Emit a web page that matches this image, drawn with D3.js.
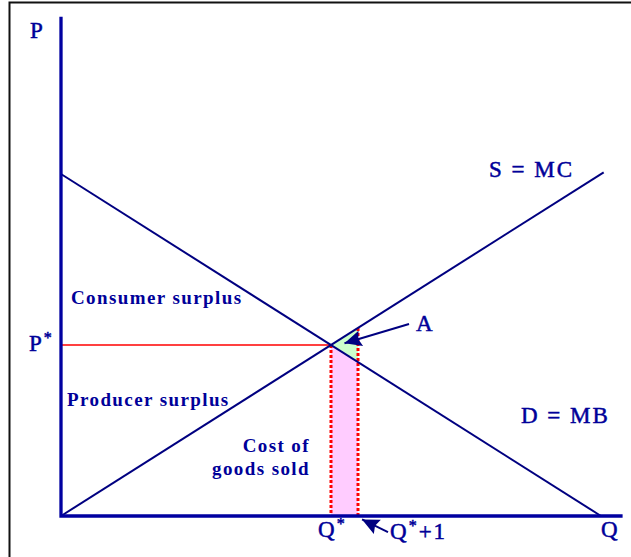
<!DOCTYPE html>
<html>
<head>
<meta charset="utf-8">
<script src="https://cdn.jsdelivr.net/npm/d3@7"></script>
<style>
  body { margin: 0; background: #fff; }
  svg { display: block; }
  text { font-family: "Liberation Serif", "Times New Roman", serif; fill: #000099; }
  .bold { font-weight: bold; font-size: 19px; letter-spacing: 1.4px; }
  .big { font-size: 23px; letter-spacing: 2px; stroke: #000099; stroke-width: 0.5px; }
</style>
</head>
<body>
<div id="chart"></div>
<script>
// curves in (Q, P) units
const demand = [[0, 20], [20, 0]];
const supply = [[0, 0], [20.1, 20.1]];
const qStar = 10;
const pStar = 10;
const qNext = 11;

// shaded regions
const costArea = [[10, 0], [10, 10], [11, 9], [11, 0]];
const areaA = [[10, 10], [11, 11], [11, 9]];

// annotation arrows: [tail, tip]
const arrowA = [[12.89, 11.23], [10.5, 10.1]];
const arrowQ = [[12.11, -0.94], [11.15, -0.2]];

const axisEnd = { q: 20.8, p: 29.2 };

const width = 631;
const height = 557;

const x = d3.scaleLinear().domain([0, 20]).range([61, 601]);
const y = d3.scaleLinear().domain([0, 20]).range([516, 174]);

const svg = d3.select('#chart').append('svg')
    .attr('width', width)
    .attr('height', height);

// frame
svg.append('rect')
    .attr('x', 9.5).attr('y', 2.5)
    .attr('width', 700).attr('height', 700)
    .attr('fill', 'none')
    .attr('stroke', '#111')
    .attr('stroke-width', 2);

const line = d3.line().x(d => x(d[0])).y(d => y(d[1]));

svg.append('path')
    .attr('d', line(costArea) + 'Z')
    .attr('fill', '#ffccff');

svg.append('path')
    .attr('d', line(areaA) + 'Z')
    .attr('fill', '#ccffcc');

// P* line
svg.append('path')
    .attr('d', line([[0, pStar], [qStar, pStar]]))
    .attr('stroke', '#ff0000')
    .attr('stroke-width', 1.3)
    .attr('fill', 'none');

// dotted verticals
[[[qStar, pStar], [qStar, 0]], [[qNext, qNext], [qNext, 0]]].forEach(seg => {
    svg.append('path')
        .attr('d', line(seg))
        .attr('stroke', '#ff0000')
        .attr('stroke-width', 3)
        .attr('stroke-dasharray', '3,2')
        .attr('fill', 'none');
});

// curves
[demand, supply].forEach(c => {
    svg.append('path')
        .attr('d', line(c))
        .attr('stroke', '#000080')
        .attr('stroke-width', 2)
        .attr('fill', 'none');
});

// axes
svg.append('path')
    .attr('d', line([[0, axisEnd.p], [0, 0], [axisEnd.q, 0]]))
    .attr('stroke', '#0000a0')
    .attr('stroke-width', 3.3)
    .attr('fill', 'none');

// arrows
[arrowA, arrowQ].forEach(a => {
    svg.append('path')
        .attr('d', line(a))
        .attr('stroke', '#000080')
        .attr('stroke-width', 2)
        .attr('fill', 'none');
    // head drawn as a polygon at the tip
    const [tx, ty] = [x(a[1][0]), y(a[1][1])];
    const ang = Math.atan2(ty - y(a[0][1]), tx - x(a[0][0]));
    const L = 17, W = 8;
    const bx = tx - L * Math.cos(ang), by = ty - L * Math.sin(ang);
    const px = -Math.sin(ang) * W, py = Math.cos(ang) * W;
    svg.append('path')
        .attr('d', `M${tx},${ty}L${bx + px},${by + py}L${bx + L * 0.15 * Math.cos(ang)},${by + L * 0.15 * Math.sin(ang)}L${bx - px},${by - py}Z`)
        .attr('fill', '#000080');
});

// labels
const label = (tx, ty, str, cls) => svg.append('text')
    .attr('x', tx).attr('y', ty)
    .attr('class', cls)
    .text(str);

label(30, 38, 'P', 'big');
label(601, 537, 'Q', 'big');
label(489, 177, 'S = MC', 'big');
label(521, 423, 'D = MB', 'big');
label(416, 331, 'A', 'big');

label(71, 304, 'Consumer surplus', 'bold');
label(67, 406, 'Producer surplus', 'bold');
label(310, 452, 'Cost of', 'bold').attr('text-anchor', 'end');
label(310, 475, 'goods sold', 'bold').attr('text-anchor', 'end');

const starLabel = (tx, ty, base, rest) => {
    const t = svg.append('text').attr('x', tx).attr('y', ty).attr('class', 'big');
    t.append('tspan').text(base);
    t.append('tspan').attr('dy', -8).attr('font-size', 16).text('*');
    if (rest) t.append('tspan').attr('dy', 8).text(rest);
    return t;
};
starLabel(29, 351, 'P');
starLabel(318, 537, 'Q');
starLabel(390, 539, 'Q', '+1');
</script>
</body>
</html>
